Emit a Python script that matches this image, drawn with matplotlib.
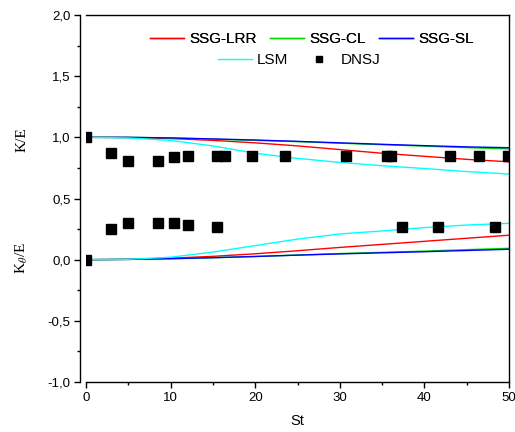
import matplotlib
matplotlib.use('Agg')
import matplotlib.pyplot as plt
from matplotlib.ticker import MultipleLocator, FuncFormatter
from matplotlib.lines import Line2D

plt.rcParams['font.family'] = ['Liberation Sans', 'DejaVu Sans']
plt.rcParams['mathtext.fontset'] = 'stix'

# model curves, St grid
st = [0, 5, 10, 15, 20, 25, 30, 35, 40, 45, 50]
# K/E
ke_lrr = [1.0, 0.998, 0.99, 0.975, 0.955, 0.93, 0.90, 0.87, 0.845, 0.82, 0.80]
ke_cl = [1.0, 1.0, 0.995, 0.985, 0.975, 0.965, 0.952, 0.94, 0.928, 0.916, 0.905]
ke_sl = [1.0, 1.0, 0.995, 0.987, 0.978, 0.967, 0.955, 0.943, 0.932, 0.922, 0.915]
ke_lsm = [1.0, 0.995, 0.975, 0.93, 0.87, 0.828, 0.795, 0.768, 0.745, 0.72, 0.70]
# K_theta/E
kt_lrr = [0.0, 0.003, 0.012, 0.027, 0.048, 0.073, 0.10, 0.125, 0.15, 0.175, 0.20]
kt_cl = [0.0, 0.002, 0.008, 0.016, 0.026, 0.038, 0.05, 0.06, 0.07, 0.082, 0.093]
kt_sl = [0.0, 0.002, 0.008, 0.016, 0.026, 0.037, 0.047, 0.056, 0.065, 0.075, 0.085]
kt_lsm = [0.0, 0.003, 0.02, 0.062, 0.115, 0.168, 0.21, 0.235, 0.262, 0.283, 0.297]

# DNS points
dns_st_k = [0.0, 3.0, 5.0, 8.5, 10.4, 12.0, 15.5, 16.4, 19.6, 23.5, 30.7, 35.6, 36.0, 43.0, 46.4, 49.9]
dns_k = [1.0, 0.87, 0.81, 0.81, 0.84, 0.85, 0.85, 0.85, 0.85, 0.85, 0.85, 0.85, 0.85, 0.85, 0.85, 0.85]
dns_st_t = [0.0, 3.0, 5.0, 8.5, 10.4, 12.0, 15.5, 37.4, 41.6, 48.3]
dns_t = [0.0, 0.25, 0.30, 0.30, 0.30, 0.28, 0.27, 0.27, 0.27, 0.27]

W, H = 515, 432
fig = plt.figure(figsize=(W / 100, H / 100), dpi=100)
ax = fig.add_axes([86 / W, 1 - 382 / H, (509 - 86) / W, (382 - 15) / H])

red, green, blue, cyan = '#ff0000', '#00e000', '#0000ff', '#00ffff'
for ys in (ke_lrr, kt_lrr):
    ax.plot(st, ys, color=red, lw=1)
for ys in (ke_cl, kt_cl):
    ax.plot(st, ys, color=green, lw=1)
for ys in (ke_sl, kt_sl):
    ax.plot(st, ys, color=blue, lw=1)
for ys in (ke_lsm, kt_lsm):
    ax.plot(st, ys, color=cyan, lw=1)
ax.plot(dns_st_k, dns_k, 's', color='black', ms=6.5, ls='none')
ax.plot(dns_st_t, dns_t, 's', color='black', ms=6.5, ls='none')

ax.set_xlim(0, 50)
ax.set_ylim(-1, 2)
ax.spines['left'].set_position(('outward', 4))
ax.xaxis.set_major_locator(MultipleLocator(10))
ax.xaxis.set_minor_locator(MultipleLocator(5))
ax.yaxis.set_major_locator(MultipleLocator(0.5))
ax.yaxis.set_minor_locator(MultipleLocator(0.25))
ax.yaxis.set_major_formatter(FuncFormatter(lambda v, p: ('%.1f' % v).replace('.', ',')))
ax.tick_params(which='major', direction='out', length=4, width=1, labelsize=9.5, pad=3)
ax.tick_params(which='minor', direction='out', length=2.5, width=1)
for s in ax.spines.values():
    s.set_linewidth(1)

# legend, two rows
h1 = [Line2D([], [], color=red, lw=1), Line2D([], [], color=green, lw=1),
      Line2D([], [], color=blue, lw=1)]
leg1 = fig.legend(h1, ['SSG-LRR', 'SSG-CL', 'SSG-SL'], ncol=3, frameon=False,
                  loc='center left', bbox_to_anchor=(150 / W, 1 - 39 / H),
                  fontsize=11, handlelength=2.2, handletextpad=0.35,
                  columnspacing=0.9, borderpad=0, borderaxespad=0)
h2 = [Line2D([], [], color=cyan, lw=1),
      Line2D([], [], color='black', marker='s', ms=5, ls='none')]
leg2 = fig.legend(h2, ['LSM', 'DNSJ'], ncol=2, frameon=False,
                  loc='center left', bbox_to_anchor=(218 / W, 1 - 60 / H),
                  fontsize=11, handlelength=2.2, handletextpad=0.35,
                  columnspacing=0.9, borderpad=0, borderaxespad=0)
fig.add_artist(leg1)

fig.text(297 / W, 1 - 421 / H, 'St', ha='center', va='center', fontsize=10.5)
fig.text(22 / W, 1 - 140 / H, 'K/E', rotation=90, ha='center', va='center',
         fontsize=11, family='Liberation Serif')
fig.text(22 / W, 1 - 258 / H, r'K$_{\theta}$/E', rotation=90, ha='center', va='center',
         fontsize=11, family='Liberation Serif')

fig.savefig('out.png', dpi=100)
